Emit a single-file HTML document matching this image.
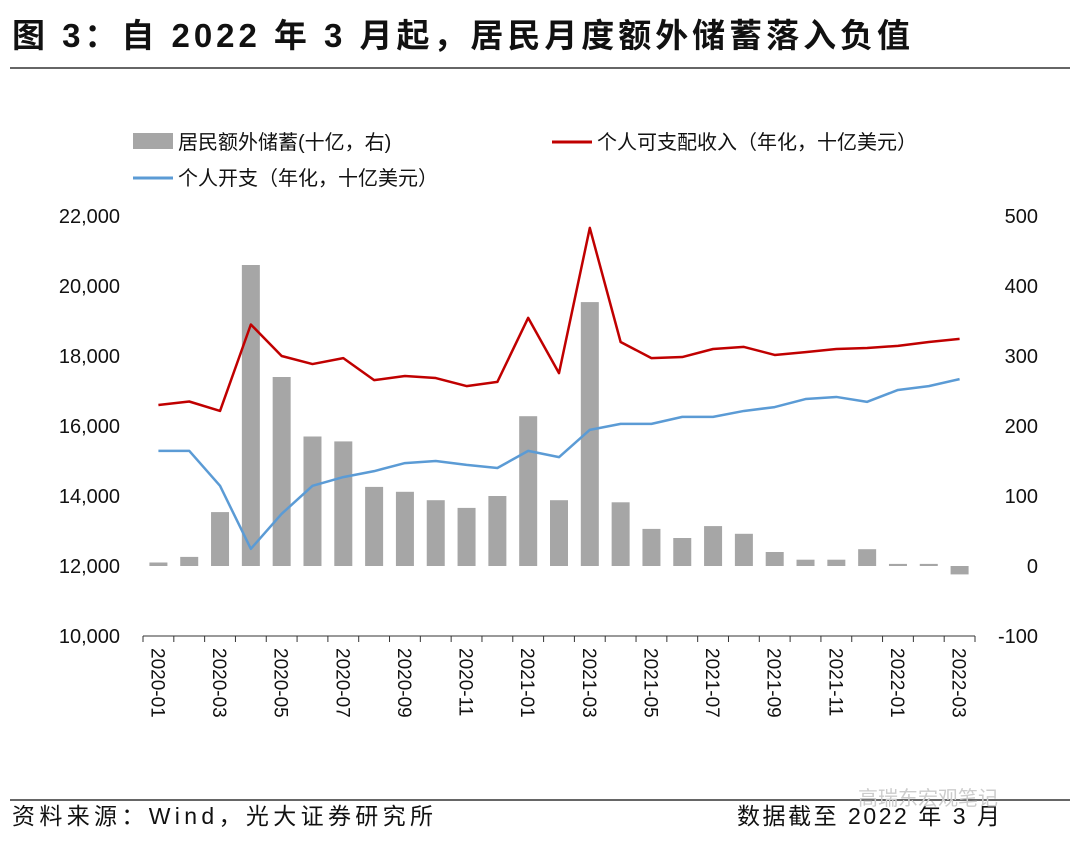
<!DOCTYPE html>
<html><head><meta charset="utf-8"><style>
body{margin:0;background:#fff;width:1080px;height:844px;overflow:hidden;font-family:"Liberation Sans","Noto Sans CJK SC",sans-serif}
</style></head><body>
<svg width="1080" height="844" xmlns="http://www.w3.org/2000/svg" font-family="Liberation Sans, Noto Sans CJK SC, sans-serif">
<text x="12" y="47" font-size="33" font-weight="bold" fill="#111" textLength="898" lengthAdjust="spacing">图 3：自 2022 年 3 月起，居民月度额外储蓄落入负值</text>
<line x1="10" y1="68" x2="1070" y2="68" stroke="#333" stroke-width="1.5"/>
<g font-size="20" fill="#111">
<rect x="133" y="133" width="40" height="16" fill="#a6a6a6"/>
<text x="178" y="149">居民额外储蓄(十亿，右)</text>
<line x1="552" y1="142" x2="592" y2="142" stroke="#c00000" stroke-width="3"/>
<text x="597" y="149">个人可支配收入（年化，十亿美元）</text>
<line x1="133" y1="178" x2="173" y2="178" stroke="#5b9bd5" stroke-width="3"/>
<text x="178" y="185">个人开支（年化，十亿美元）</text>
</g>
<g id="axes"></g>
<g id="bars"></g>
<g id="lines"></g>
<line x1="10" y1="800" x2="1070" y2="800" stroke="#333" stroke-width="1.5"/>
<text x="12" y="824" font-size="23" fill="#111" textLength="421" lengthAdjust="spacing">资料来源：Wind，光大证券研究所</text>
<text x="737" y="824" font-size="23" fill="#111" textLength="263" lengthAdjust="spacing">数据截至 2022 年 3 月</text>
<text x="858" y="805" font-size="20" fill="#ccc">高瑞东宏观笔记</text>
</svg>
<script>
const categories=["2020-01","2020-02","2020-03","2020-04","2020-05","2020-06","2020-07","2020-08","2020-09","2020-10","2020-11","2020-12","2021-01","2021-02","2021-03","2021-04","2021-05","2021-06","2021-07","2021-08","2021-09","2021-10","2021-11","2021-12","2022-01","2022-02","2022-03"];
const savings=[5,13,77,430,270,185,178,113,106,94,83,100,214,94,377,91,53,40,57,46,20,9,9,24,3,3,-12];
const income=[16600,16700,16430,18900,18000,17770,17940,17310,17430,17370,17140,17260,19090,17510,21660,18400,17940,17970,18200,18260,18030,18110,18200,18230,18290,18400,18490];
const spending=[15290,15290,14290,12490,13490,14290,14540,14710,14940,15000,14890,14800,15290,15110,15890,16060,16060,16260,16260,16430,16540,16770,16830,16690,17030,17140,17340];
const leftTicks=[10000,12000,14000,16000,18000,20000,22000];
const rightTicks=[-100,0,100,200,300,400,500];
const NS="http://www.w3.org/2000/svg";
const X0=143,X1=975,YT=216,YB=636;
const bw=(X1-X0)/categories.length;
const xc=i=>X0+bw*(i+0.5);
const yL=v=>YB-(v-10000)/12000*(YB-YT);
const yR=v=>YB-(v+100)/600*(YB-YT);
function mk(tag,attrs,parent){const e=document.createElementNS(NS,tag);for(const k in attrs)e.setAttribute(k,attrs[k]);document.getElementById(parent).appendChild(e);return e;}
let e=mk('line',{x1:X0,y1:YB,x2:X1,y2:YB,stroke:'#333','stroke-width':1},'axes');


for(let i=0;i<=categories.length;i++){const t=mk('line',{x1:X0+bw*i,y1:YB,x2:X0+bw*i,y2:YB+6,stroke:'#333'},'axes');

}
categories.forEach((c,i)=>{if(i%2)return;const t=mk('text',{x:0,y:0,'font-size':19,fill:'#111','text-anchor':'start',transform:`translate(${xc(i)-7},${YB+12}) rotate(90)`},'axes');t.textContent=c;

});
leftTicks.forEach(v=>{const t=mk('text',{x:120,y:yL(v)+7,'font-size':20,fill:'#111','text-anchor':'end'},'axes');t.textContent=v.toLocaleString('en-US');

});
rightTicks.forEach(v=>{const t=mk('text',{x:1038,y:yR(v)+7,'font-size':20,fill:'#111','text-anchor':'end'},'axes');t.textContent=v;

});
savings.forEach((v,i)=>{const y0=yR(0),y1=yR(v);const r=mk('rect',{x:xc(i)-9,y:Math.min(y0,y1),width:18,height:Math.abs(y1-y0),fill:'#a6a6a6'},'bars');

});
function line(arr,col,name){const p=mk('polyline',{points:arr.map((v,i)=>xc(i)+','+yL(v)).join(' '),fill:'none',stroke:col,'stroke-width':2.5,'stroke-linejoin':'round'},'lines');

}
line(spending,'#5b9bd5','spending-line');
line(income,'#c00000','income-line');
</script>
</body></html>
